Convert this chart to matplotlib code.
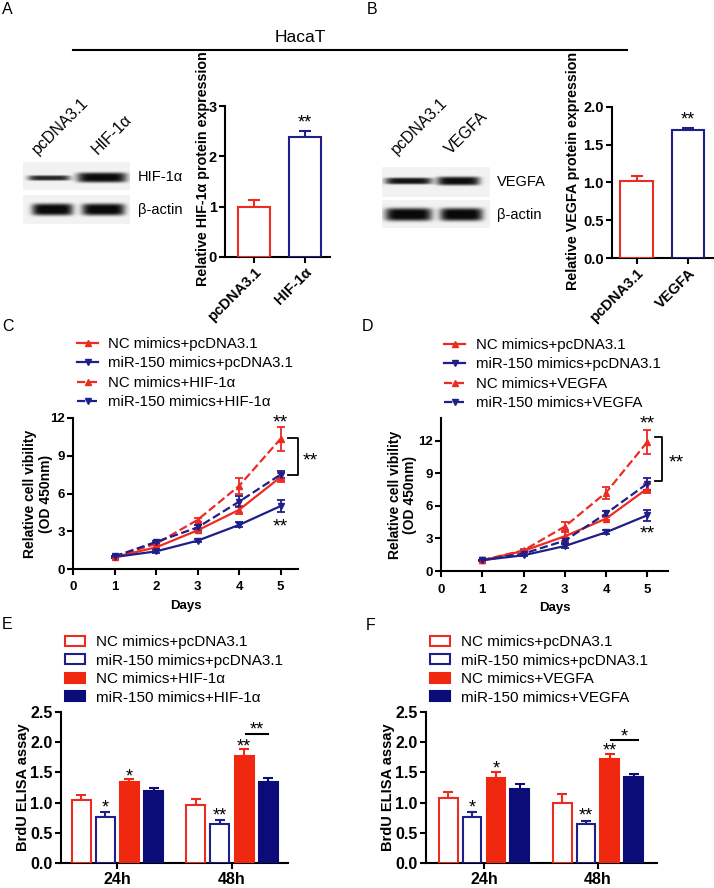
import numpy as np
import matplotlib
matplotlib.use('Agg')
import matplotlib.pyplot as plt
from matplotlib.lines import Line2D
from matplotlib.patches import Patch

plt.rcParams['font.family'] = ['Liberation Sans', 'DejaVu Sans']

W, H = 714, 888
RED = '#ec2b22'
NAVY = '#1f1f8a'
RED_F = '#f0280f'
NAVY_F = '#0c0c78'

# ---------------- data ----------------
# Panel A
a_groups = ['pcDNA3.1', 'HIF-1α']
a_values = [1.00, 2.38]
a_err = [0.14, 0.12]
# Panel B
b_groups = ['pcDNA3.1', 'VEGFA']
b_values = [1.02, 1.69]
b_err = [0.07, 0.03]

days = [1, 2, 3, 4, 5]
c_labels = ['NC mimics+pcDNA3.1', 'miR-150 mimics+pcDNA3.1',
            'NC mimics+HIF-1α', 'miR-150 mimics+HIF-1α']
c_nc_pc = [0.95, 1.72, 3.07, 4.70, 7.30]
c_nc_pc_err = [0.08, 0.15, 0.15, 0.30, 0.35]
c_mir_pc = [0.95, 1.40, 2.25, 3.50, 5.00]
c_mir_pc_err = [0.05, 0.10, 0.10, 0.20, 0.45]
c_nc_hif = [1.00, 2.00, 3.90, 6.60, 10.35]
c_nc_hif_err = [0.05, 0.10, 0.15, 0.60, 0.95]
c_mir_hif = [1.00, 2.15, 3.30, 5.35, 7.50]
c_mir_hif_err = [0.05, 0.10, 0.20, 0.45, 0.30]

d_labels = ['NC mimics+pcDNA3.1', 'miR-150 mimics+pcDNA3.1',
            'NC mimics+VEGFA', 'miR-150 mimics+VEGFA']
d_nc_pc = [0.98, 1.85, 3.20, 4.83, 7.60]
d_nc_pc_err = [0.05, 0.10, 0.40, 0.15, 0.40]
d_mir_pc = [1.00, 1.45, 2.30, 3.57, 5.14]
d_mir_pc_err = [0.05, 0.10, 0.15, 0.20, 0.50]
d_nc_veg = [1.00, 1.90, 4.10, 7.23, 11.90]
d_nc_veg_err = [0.05, 0.15, 0.45, 0.55, 1.10]
d_mir_veg = [1.00, 1.60, 2.80, 5.30, 8.06]
d_mir_veg_err = [0.05, 0.10, 0.20, 0.20, 0.55]

times = ['24h', '48h']
e_labels = c_labels
e_nc_pc = [1.04, 0.96]
e_nc_pc_err = [0.09, 0.10]
e_mir_pc = [0.76, 0.64]
e_mir_pc_err = [0.08, 0.07]
e_nc_hif = [1.34, 1.77]
e_nc_hif_err = [0.05, 0.11]
e_mir_hif = [1.19, 1.34]
e_mir_hif_err = [0.06, 0.07]

f_labels = d_labels
f_nc_pc = [1.07, 0.99]
f_nc_pc_err = [0.10, 0.16]
f_mir_pc = [0.76, 0.65]
f_mir_pc_err = [0.08, 0.05]
f_nc_veg = [1.41, 1.73]
f_nc_veg_err = [0.10, 0.07]
f_mir_veg = [1.22, 1.42]
f_mir_veg_err = [0.09, 0.05]

# western blot band appearance (decorative): (x0, x1, yc, half-height, darkness)
blot_a_strips = [(23, 130, 162, 190), (23, 130, 195, 224)]
blot_a_bands = [[(28, 70, 178, 2.6, 0.8), (77, 127, 177.5, 5.0, 0.92)],
                [(32, 73, 209.5, 6.0, 0.95), (82, 125, 209.5, 6.0, 0.95)]]
blot_b_strips = [(382, 490, 167, 197), (382, 490, 200, 228)]
blot_b_bands = [[(385, 432, 181.5, 3.2, 0.88), (437, 480, 181.5, 4.2, 0.9)],
                [(385, 432, 214.5, 6.5, 0.95), (440, 483, 214.5, 6.5, 0.95)]]

fig = plt.figure(figsize=(W / 100, H / 100), dpi=100)


def P(x, y):
    return (x / W, 1 - y / H)


def add_ax(l, t, r, b):
    return fig.add_axes([l / W, 1 - b / H, (r - l) / W, (b - t) / H])


def style(ax, fs):
    for s in ['top', 'right']:
        ax.spines[s].set_visible(False)
    for s in ['left', 'bottom']:
        ax.spines[s].set_linewidth(1.5)
    ax.tick_params(width=1.5, length=4, labelsize=fs, pad=2)
    for lab in ax.get_xticklabels() + ax.get_yticklabels():
        lab.set_fontweight('bold')


def star(ax, x, y, t, fs):
    ax.annotate(t, (x, y), xytext=(0, -0.24 * fs), textcoords='offset points',
                ha='center', va='center', fontsize=fs, annotation_clip=False)


# ---------------- blots ----------------
def draw_blot(strips, bands):
    xs0 = min(s[0] for s in strips)
    xs1 = max(s[1] for s in strips)
    ys0 = min(s[2] for s in strips)
    ys1 = max(s[3] for s in strips)
    ax = add_ax(xs0, ys0, xs1, ys1)
    ax.set_xlim(xs0, xs1)
    ax.set_ylim(ys1, ys0)
    ax.axis('off')
    for (x0, x1, y0, y1), bl in zip(strips, bands):
        xx = np.linspace(x0, x1, (x1 - x0) * 3)
        yy = np.linspace(y0, y1, (y1 - y0) * 3)
        X, Y = np.meshgrid(xx, yy)
        img = np.full(X.shape, 0.95)
        for (bx0, bx1, yc, hh, dk) in bl:
            xc = (bx0 + bx1) / 2
            hw = (bx1 - bx0) / 2
            fxv = np.exp(-np.abs((X - xc) / hw) ** 6)
            fyv = np.exp(-np.abs((Y - yc) / hh) ** 4)
            img = img - dk * fxv * fyv
        img = np.clip(img, 0.04, 1)
        ax.imshow(img, cmap='gray', vmin=0, vmax=1, extent=(x0, x1, y1, y0),
                  aspect='auto', interpolation='bilinear')


draw_blot(blot_a_strips, blot_a_bands)
draw_blot(blot_b_strips, blot_b_bands)

fig.text(*P(138, 177), 'HIF-1α', fontsize=10.5, va='center', ha='left')
fig.text(*P(138, 210), 'β-actin', fontsize=10.5, va='center', ha='left')
fig.text(*P(497, 182), 'VEGFA', fontsize=10.5, va='center', ha='left')
fig.text(*P(497, 215), 'β-actin', fontsize=10.5, va='center', ha='left')
for (x, y, t) in [(38, 155, 'pcDNA3.1'), (98, 155, 'HIF-1α'),
                  (397, 155, 'pcDNA3.1'), (451, 155, 'VEGFA')]:
    fig.text(*P(x, y), t, fontsize=11.5, rotation=45, rotation_mode='anchor',
             ha='left', va='baseline')

# panel letters, header
for (x, y, t) in [(2, 9, 'A'), (367, 9, 'B'), (2, 326, 'C'), (362, 326, 'D'),
                  (2, 624, 'E'), (366, 625, 'F')]:
    fig.text(*P(x, y), t, fontsize=11.5, va='center', ha='left')
fig.text(*P(300, 38), 'HacaT', fontsize=12.5, va='center', ha='center')
fig.add_artist(Line2D([73 / W, 627 / W], [1 - 50 / H, 1 - 50 / H],
                      color='black', lw=1.5))


# ---------------- A / B bar charts ----------------
def small_bar(box, groups, vals, errs, ylim, yticks, ytl, ylabel, xlim, lab_xy):
    ax = add_ax(*box)
    x = np.arange(len(groups))
    cols = [RED, NAVY]
    ax.bar(x, vals, width=0.63, color='white', edgecolor=cols, linewidth=1.5, zorder=3)
    for xi, v, e, c in zip(x, vals, errs, cols):
        ax.errorbar([xi], [v], yerr=[[0], [e]], color=c, capsize=4.5,
                    elinewidth=1.5, capthick=1.5, zorder=2)
    ax.set_xlim(*xlim)
    ax.set_ylim(*ylim)
    ax.set_yticks(yticks)
    ax.set_yticklabels(ytl)
    ax.set_xticks(x)
    ax.set_xticklabels(groups, rotation=45, ha='right', rotation_mode='anchor')
    ax.set_ylabel(ylabel, fontsize=10.3, fontweight='bold')
    ax.yaxis.set_label_coords(*lab_xy)
    style(ax, 10.5)
    star(ax, 1, vals[1] + errs[1] + (ylim[1] - ylim[0]) * 0.08, '**', 13)
    return ax


small_bar((225, 106, 330, 257), a_groups, a_values, a_err, (0, 3),
          [0, 1, 2, 3], ['0', '1', '2', '3'],
          'Relative HIF-1α protein expression', (-0.57, 1.49), (-0.143, 0.583))
small_bar((612, 107, 713, 258), b_groups, b_values, b_err, (0, 2),
          [0, 0.5, 1.0, 1.5, 2.0], ['0.0', '0.5', '1.0', '1.5', '2.0'],
          'Relative VEGFA protein expression', (-0.48, 1.49), (-0.317, 0.578))


# ---------------- C / D line charts ----------------
def line_chart(box, labels, series, errs, ylim, xlim, legend_xy,
               top_star, low_star, bracket, br_star, lab_x):
    ax = add_ax(*box)
    styles = [(RED, '-', '^'), (NAVY, '-', 'v'), (RED, '--', '^'), (NAVY, '--', 'v')]
    handles = []
    for s, e, (c, ls, m), lab in zip(series, errs, styles, labels):
        ax.errorbar(days, s, yerr=e, color=c, ls=ls, marker=m, ms=4.5, lw=1.6,
                    capsize=3, elinewidth=1.3, capthick=1.3, clip_on=False, zorder=3)
        handles.append(Line2D([], [], color=c, ls=ls, marker=m, ms=4.5, lw=1.6,
                              label=lab))
    ax.set_xlim(*xlim)
    ax.set_ylim(*ylim)
    ax.set_xticks([0, 1, 2, 3, 4, 5])
    ax.set_yticks([0, 3, 6, 9, 12])
    ax.set_xlabel('Days', fontsize=9.5, fontweight='bold', labelpad=5)
    ax.set_ylabel('Relative cell vibility\n(OD 450nm)', fontsize=10,
                  fontweight='bold', linespacing=1.15)
    ax.yaxis.set_label_coords(lab_x, 0.5)
    style(ax, 9.5)
    ax.tick_params(axis='x', length=4, pad=5)
    star(ax, 5, top_star, '**', 14)
    star(ax, 5, low_star, '**', 14)
    bx0, bx1, by0, by1 = bracket
    ax.plot([bx0, bx1, bx1, bx0], [by0, by0, by1, by1], color='black', lw=1.3,
            clip_on=False)
    star(ax, br_star[0], br_star[1], '**', 14)
    fig.legend(handles=handles, loc='upper left',
               bbox_to_anchor=P(*legend_xy), frameon=False, fontsize=10.8,
               handlelength=1.4, handletextpad=0.7, labelspacing=0.36,
               borderpad=0, borderaxespad=0)
    return ax


ax_c = line_chart((73, 418, 298, 569), c_labels,
                  [c_nc_pc, c_mir_pc, c_nc_hif, c_mir_hif],
                  [c_nc_pc_err, c_mir_pc_err, c_nc_hif_err, c_mir_hif_err],
                  (0, 12), (0, 5.42), (77, 337), 12.0, 3.7,
                  (5.17, 5.42, 10.4, 7.5), (5.72, 8.95), -0.089)
ax_d = line_chart((441, 418, 668, 571), d_labels,
                  [d_nc_pc, d_mir_pc, d_nc_veg, d_mir_veg],
                  [d_nc_pc_err, d_mir_pc_err, d_nc_veg_err, d_mir_veg_err],
                  (0, 14.1), (0, 5.5), (444, 338), 14.0, 3.8,
                  (5.18, 5.35, 12.37, 8.28), (5.71, 10.4), -0.104)


# ---------------- E / F grouped bars ----------------
def group_bars(box, labels, series, errs, xlim, stars, bracket, br_text, lab_x):
    ax = add_ax(*box)
    x = np.arange(len(times))
    offs = [-0.315, -0.105, 0.105, 0.315]
    fcs = ['white', 'white', RED_F, NAVY_F]
    ecs = [RED, NAVY, RED_F, NAVY_F]
    handles = []
    for s, e, o, fc, ec, lab in zip(series, errs, offs, fcs, ecs, labels):
        ax.bar(x + o, s, width=0.166, color=fc, edgecolor=ec, linewidth=1.5, zorder=3)
        ax.errorbar(x + o, s, yerr=[[0] * len(s), e], fmt='none', ecolor=ec,
                    capsize=3.5, elinewidth=1.5, capthick=1.5, zorder=2)
        handles.append(Patch(facecolor=fc, edgecolor=ec, linewidth=1.5, label=lab))
    ax.set_xlim(*xlim)
    ax.set_ylim(0, 2.5)
    ax.set_yticks([0, 0.5, 1.0, 1.5, 2.0, 2.5])
    ax.set_yticklabels(['0.0', '0.5', '1.0', '1.5', '2.0', '2.5'])
    ax.set_xticks(x)
    ax.set_xticklabels(times)
    ax.set_ylabel('BrdU ELISA assay', fontsize=10.5, fontweight='bold')
    ax.yaxis.set_label_coords(lab_x, 0.5)
    style(ax, 11.5)
    ax.tick_params(axis='x', pad=2.5)
    for (xi, si, y, t) in stars:
        star(ax, xi + offs[si], y, t, 13)
    ax.plot([bracket[0], bracket[1]], [bracket[2], bracket[2]], color='black', lw=1.5)
    star(ax, (bracket[0] + bracket[1]) / 2, br_text[1], br_text[0], 13)
    fig.legend(handles=handles, loc='upper left', bbox_to_anchor=P(box[0] + 4, 635),
               frameon=False, fontsize=11, handlelength=1.3, handleheight=0.65,
               handletextpad=0.75, labelspacing=0.3, borderpad=0, borderaxespad=0)
    return ax


group_bars((61, 712, 288, 863), e_labels,
           [e_nc_pc, e_mir_pc, e_nc_hif, e_mir_hif],
           [e_nc_pc_err, e_mir_pc_err, e_nc_hif_err, e_mir_hif_err],
           (-0.493, 1.489),
           [(0, 1, 0.99, '*'), (0, 2, 1.49, '*'), (1, 1, 0.85, '**'), (1, 2, 1.99, '**')],
           (1.12, 1.315, 2.136), ('**', 2.27), -0.137)
group_bars((426, 712, 657, 863), f_labels,
           [f_nc_pc, f_mir_pc, f_nc_veg, f_mir_veg],
           [f_nc_pc_err, f_mir_pc_err, f_nc_veg_err, f_mir_veg_err],
           (-0.509, 1.518),
           [(0, 1, 0.99, '*'), (0, 2, 1.63, '*'), (1, 1, 0.85, '**'), (1, 2, 1.93, '**')],
           (1.114, 1.35, 2.04), ('*', 2.16), -0.134)

fig.savefig('out.png', dpi=100)
